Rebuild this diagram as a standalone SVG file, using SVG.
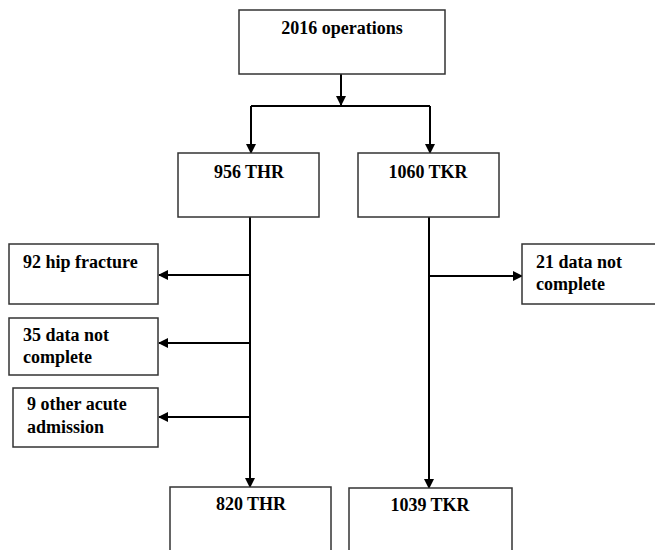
<svg xmlns="http://www.w3.org/2000/svg" width="655" height="550" viewBox="0 0 655 550">
<defs>
<style>
.box{fill:#fff;stroke:#333;stroke-width:1.5}
.t{font-family:'Liberation Serif','DejaVu Serif',serif;font-weight:700;font-size:18px;fill:#000}
.c{fill:none;stroke:#000;stroke-width:2}
</style>
<marker id="ah" markerWidth="10" markerHeight="10" refX="9" refY="5" orient="auto" markerUnits="userSpaceOnUse">
<path d="M0,0 L10,5 L0,10 Z" fill="#000"/>
</marker>
</defs>
<rect width="655" height="550" fill="#fff"/>
<g id="connectors">
<path class="c" d="M341,74 V105" marker-end="url(#ah)"/>
<path class="c" d="M251,106 H430"/>
<path class="c" d="M251,106 V153" marker-end="url(#ah)"/>
<path class="c" d="M430,106 V153" marker-end="url(#ah)"/>
<path class="c" d="M250,217 V487" marker-end="url(#ah)"/>
<path class="c" d="M250,275 H159" marker-end="url(#ah)"/>
<path class="c" d="M250,343 H159" marker-end="url(#ah)"/>
<path class="c" d="M250,417 H159" marker-end="url(#ah)"/>
<path class="c" d="M429,217 V488" marker-end="url(#ah)"/>
<path class="c" d="M429,276 H522" marker-end="url(#ah)"/>
</g>
<g id="n-ops">
<rect class="box" x="239" y="10" width="206" height="64"/>
<text class="t" x="342" y="34" text-anchor="middle">2016 operations</text>
</g>
<g id="n-thr">
<rect class="box" x="178" y="153" width="141" height="64"/>
<text class="t" x="249" y="178" text-anchor="middle">956 THR</text>
</g>
<g id="n-tkr">
<rect class="box" x="358" y="153" width="141" height="64"/>
<text class="t" x="428" y="178" text-anchor="middle">1060 TKR</text>
</g>
<g id="n-hip">
<rect class="box" x="9" y="244" width="149" height="60"/>
<text class="t" x="23" y="268">92 hip fracture</text>
</g>
<g id="n-data35">
<rect class="box" x="9" y="318" width="149" height="57"/>
<text class="t" x="23" y="341">35 data not</text>
<text class="t" x="23" y="363">complete</text>
</g>
<g id="n-acute">
<rect class="box" x="13" y="388" width="145" height="59"/>
<text class="t" x="27" y="410">9 other acute</text>
<text class="t" x="27" y="433">admission</text>
</g>
<g id="n-data21">
<rect class="box" x="522" y="244" width="140" height="60"/>
<text class="t" x="536" y="268">21 data not</text>
<text class="t" x="536" y="290">complete</text>
</g>
<g id="n-thr820">
<rect class="box" x="170" y="487" width="161" height="70"/>
<text class="t" x="251" y="510" text-anchor="middle">820 THR</text>
</g>
<g id="n-tkr1039">
<rect class="box" x="349" y="488" width="163" height="70"/>
<text class="t" x="430" y="511" text-anchor="middle">1039 TKR</text>
</g>
</svg>
